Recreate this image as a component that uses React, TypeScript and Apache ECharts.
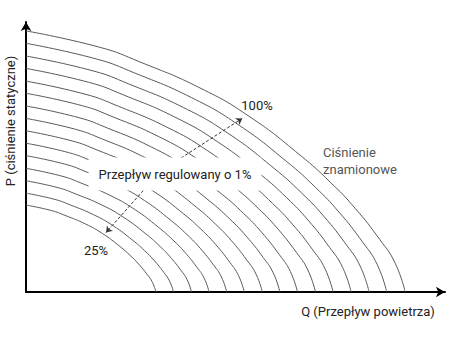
import React, { useEffect, useRef } from "react";
import * as echarts from "echarts";

// Outer (100%) fan curve: [Q, P] in % of axis length
const baseCurve: [number, number][] = [
  [0, 96.7], [17.7, 90.6], [27.2, 85.2], [41.5, 75.6], [53.5, 64.8],
  [65.4, 50.7], [72.6, 40.7], [78.5, 31.1], [84.5, 19.3], [88.1, 10.7], [90.5, 0],
];
// Where each curve meets the Q axis and the P axis (inner to outer)
const qIntercepts = [31.0, 35.2, 39.5, 43.7, 47.9, 52.1, 56.4, 60.6, 64.8, 69.1, 73.3, 77.6, 81.9, 86.1, 90.5];
const pIntercepts = [32.2, 36.6, 41.2, 45.8, 50.5, 55.1, 59.7, 64.3, 68.9, 73.6, 78.1, 82.8, 87.4, 92.1, 96.7];
// Dashed arrows: [start, end] in data units
const arrowUp: [number, number][] = [[36.0, 48.6], [51.6, 64.3]];
const arrowDown: [number, number][] = [[28.8, 39.0], [19.1, 22.0]];

const xName = "Q (Przepływ powietrza)";
const yName = "P (ciśnienie statyczne)";
const labelTop = "100%";
const labelBottom = "25%";
const labelMid = "Przepływ regulowany o 1%";
const labelRated = "Ciśnienie\nznamionowe";

export default function App() {
  const ref = useRef<HTMLDivElement>(null);
  useEffect(() => {
    if (!ref.current) return;
    const chart = echarts.init(ref.current, undefined, { renderer: "svg" });
    const qBase = baseCurve[baseCurve.length - 1][0];
    const pBase = baseCurve[0][1];
    const font = "Roboto, 'Noto Sans', sans-serif";
    const series: any[] = qIntercepts.map((q, i) => ({
      type: "line",
      smooth: 0.5,
      showSymbol: false,
      silent: true,
      lineStyle: { color: "#5a5a5a", width: 1 },
      data: baseCurve.map(([x, y]) => [(x * q) / qBase, (y * pIntercepts[i]) / pBase]),
    }));
    series.push({
      type: "line",
      data: [],
      markLine: {
        silent: true,
        symbol: ["none", "arrow"],
        symbolSize: 6,
        label: { show: false },
        lineStyle: { type: [3, 2], color: "#333", width: 1 },
        data: [
          [{ coord: arrowUp[0] }, { coord: arrowUp[1] }],
          [{ coord: arrowDown[0] }, { coord: arrowDown[1] }],
        ],
      },
    });
    chart.setOption({
      animation: false,
      grid: { left: 26, right: 5, top: 22, bottom: 46 },
      xAxis: {
        type: "value", min: 0, max: 100,
        axisLine: { show: true, symbol: ["none", "arrow"], symbolSize: [8, 9], lineStyle: { color: "#000", width: 2 } },
        axisTick: { show: false }, axisLabel: { show: false }, splitLine: { show: false },
      },
      yAxis: {
        type: "value", min: 0, max: 100,
        axisLine: { show: true, symbol: ["none", "arrow"], symbolSize: [8, 9], lineStyle: { color: "#000", width: 2 } },
        axisTick: { show: false }, axisLabel: { show: false }, splitLine: { show: false },
      },
      series,
      graphic: [
        { type: "text", z: 100, x: 368, y: 311, style: { text: xName, font: `13px ${font}`, fill: "#222", align: "center", verticalAlign: "middle" } },
        { type: "text", z: 100, x: 10, y: 121, rotation: Math.PI / 2, style: { text: yName, font: `13px ${font}`, fill: "#222", align: "center", verticalAlign: "middle" } },
        { type: "text", z: 100, x: 257, y: 105, style: { text: labelTop, font: `13px ${font}`, fill: "#222", align: "center", verticalAlign: "middle" } },
        { type: "text", z: 100, x: 96, y: 250, style: { text: labelBottom, font: `13px ${font}`, fill: "#222", align: "center", verticalAlign: "middle" } },
        { type: "text", z: 100, x: 175, y: 174, style: { text: labelMid, font: `13px ${font}`, fill: "#222", align: "center", verticalAlign: "middle", backgroundColor: "#fff", padding: [10, 10] } },
        { type: "text", z: 100, x: 323, y: 161, style: { text: labelRated, font: `13px ${font}`, fill: "#555", align: "left", verticalAlign: "middle", lineHeight: 17 } },
      ],
    });
    return () => chart.dispose();
  }, []);
  return <div ref={ref} style={{ width: 450, height: 338, position: "absolute", left: 0, top: 0 }} />;
}
